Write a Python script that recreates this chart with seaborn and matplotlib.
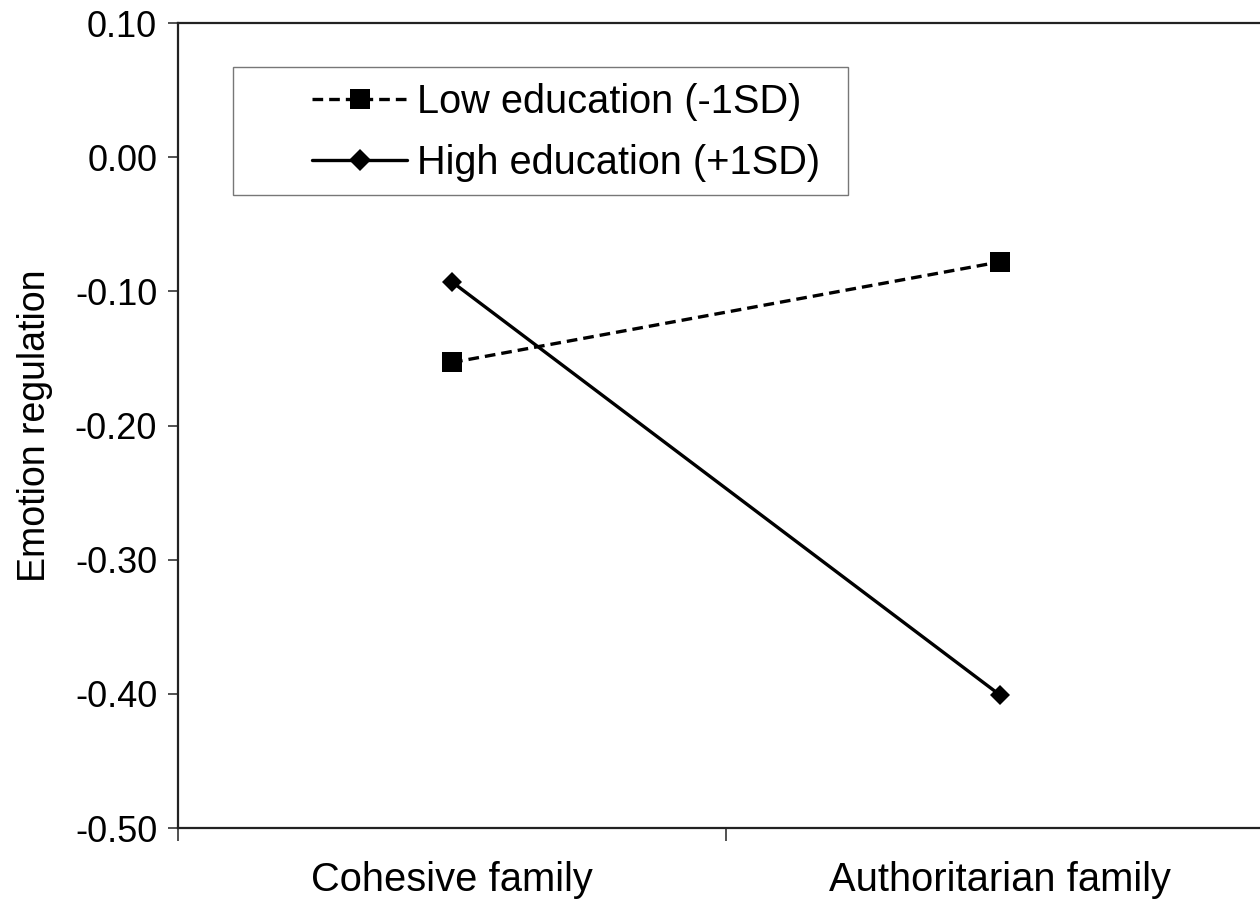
import matplotlib
matplotlib.use("Agg")
import matplotlib.pyplot as plt
import seaborn as sns
import pandas as pd
from matplotlib.ticker import FixedLocator, NullFormatter
from matplotlib.patches import Rectangle

categories = ["Cohesive family", "Authoritarian family"]
series_names = ["Low education (-1SD)", "High education (+1SD)"]
low_values = [-0.153, -0.078]
high_values = [-0.093, -0.401]
y_ticks = [0.10, 0.00, -0.10, -0.20, -0.30, -0.40, -0.50]

df = pd.DataFrame({
    "family": categories * 2,
    "value": low_values + high_values,
    "group": [series_names[0]] * 2 + [series_names[1]] * 2,
})

sns.set_theme(style="white")
plt.rcParams["font.family"] = ["Liberation Sans", "DejaVu Sans"]
plt.rcParams["text.color"] = "black"
plt.rcParams["xtick.color"] = "black"
plt.rcParams["ytick.color"] = "black"
plt.rcParams["axes.labelcolor"] = "black"

fig = plt.figure(figsize=(12.6, 9), dpi=100)
ax = fig.add_axes([0.1413, 0.08, 0.870, 0.8944])

sns.lineplot(data=df, x="family", y="value", hue="group", style="group",
             hue_order=series_names, style_order=series_names,
             palette=["black", "black"], markers={series_names[0]: "s", series_names[1]: "D"},
             dashes={series_names[0]: (3.2, 1.8), series_names[1]: ""},
             linewidth=2.4, markersize=14, markeredgewidth=0, ax=ax, sort=False)
for line in ax.lines:
    if line.get_marker() == "D":
        line.set_markersize(10.5)

ax.set_xlim(-0.5, 1.5)
ax.set_ylim(-0.5, 0.1)
ax.set_yticks(y_ticks)
ax.set_yticklabels([f"{v:.2f}" for v in y_ticks])
ax.xaxis.set_major_locator(FixedLocator([-0.5, 0.5, 1.5]))
ax.xaxis.set_major_formatter(NullFormatter())
ax.xaxis.set_minor_locator(FixedLocator([0, 1]))
ax.set_xticklabels(categories, minor=True)
ax.tick_params(axis="x", which="major", direction="out", length=9, width=1.2, color="#333333", bottom=True)
ax.tick_params(axis="x", which="minor", length=0, labelsize=28.7, pad=24, bottom=True)
ax.tick_params(axis="y", direction="out", length=7, width=1.2, color="#333333", labelsize=26, pad=8, left=True)
ax.set_xlabel("")
ax.set_ylabel("Emotion regulation", fontsize=27, labelpad=16)

for s in ax.spines.values():
    s.set_color("#222222")
    s.set_linewidth(1.6)
    s.set_visible(True)

# legend frame box
ax.add_patch(Rectangle((0.0502, 0.7863), 0.5611, 0.159, transform=ax.transAxes,
                       fill=True, facecolor="white", edgecolor="#777777", linewidth=1.0, zorder=4))

handles, labels = ax.get_legend_handles_labels()
leg = ax.legend(handles, labels, loc="upper left", bbox_to_anchor=(0.1223, 0.926),
                fontsize=28.6, frameon=False,
                handlelength=2.4, handletextpad=0.25, labelspacing=0.58,
                borderpad=0, borderaxespad=0)
leg.set_zorder(5)
for lh in leg.get_lines():
    lh.set_linewidth(2.4)
    if lh.get_marker() == "D":
        lh.set_markersize(11)
    elif lh.get_marker() == "s":
        lh.set_markersize(14)

fig.savefig("out.png", dpi=100)
